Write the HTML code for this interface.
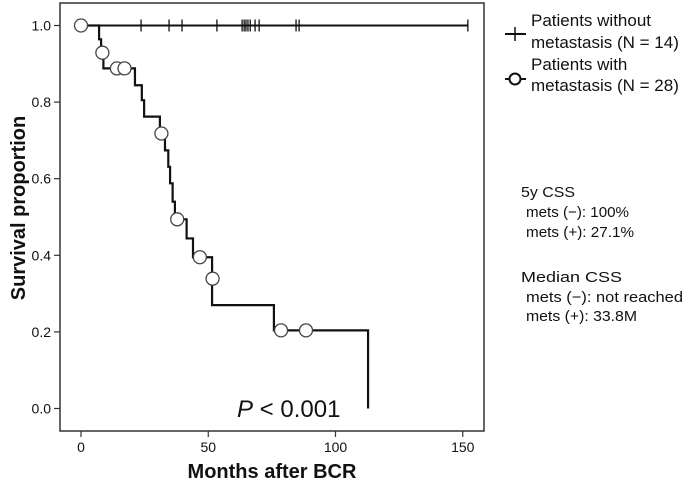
<!DOCTYPE html>
<html><head><meta charset="utf-8"><style>
body{margin:0;background:#fff;}
svg text{font-family:"Liberation Sans","Noto Sans CJK JP",sans-serif;fill:#111;}
</style></head><body>
<svg id="chart" width="685" height="484">
<rect x="60" y="3" width="424" height="428" fill="none" stroke="#333" stroke-width="1.5"/>
<g id="axes"></g>
<g id="series"></g>
<text x="0" y="0" transform="translate(25,208) rotate(-90)" text-anchor="middle" font-size="20" font-weight="bold">Survival proportion</text>
<text x="272" y="478" text-anchor="middle" font-size="20" font-weight="bold">Months after BCR</text>
<text x="237" y="417" font-size="24"><tspan font-style="italic">P</tspan> &lt; 0.001</text>
<g>
<line x1="505" y1="34" x2="526" y2="34" stroke="#111" stroke-width="2"/>
<line x1="515" y1="27" x2="515" y2="41" stroke="#111" stroke-width="1.5"/>
<text x="531" y="26" font-size="17">Patients without</text>
<text x="531" y="48" font-size="17">metastasis (N = 14)</text>
<line x1="505" y1="79" x2="526" y2="79" stroke="#111" stroke-width="2"/>
<circle cx="515" cy="79" r="5.5" fill="#fff" stroke="#111" stroke-width="2"/>
<text x="531" y="70" font-size="17">Patients with</text>
<text x="531" y="91" font-size="17">metastasis (N = 28)</text>
</g>
<g font-size="15">
<text x="521" y="197" textLength="54" lengthAdjust="spacingAndGlyphs">5y CSS</text>
<text x="526" y="217" textLength="103" lengthAdjust="spacingAndGlyphs">mets (−): 100%</text>
<text x="526" y="237" textLength="108" lengthAdjust="spacingAndGlyphs">mets (+): 27.1%</text>
<text x="521" y="282" textLength="101" lengthAdjust="spacingAndGlyphs">Median CSS</text>
<text x="526" y="302" textLength="157" lengthAdjust="spacingAndGlyphs">mets (−): not reached</text>
<text x="526" y="321" textLength="111" lengthAdjust="spacingAndGlyphs">mets (+): 33.8M</text>
</g>
</svg>
<script>
const xTicks=[0,50,100,150];
const yTicks=[0.0,0.2,0.4,0.6,0.8,1.0];
const metsTimes=[7.1,7.9,8.8,21.2,23.9,24.8,31.0,33.0,34.3,35.0,36.0,36.9,41.5,44.0,51.5,75.8,112.8];
const metsSurv=[0.964,0.929,0.888,0.844,0.805,0.762,0.718,0.674,0.631,0.588,0.54,0.494,0.444,0.395,0.27,0.204,0.0];
const metsCensorT=[0,8.4,14.1,17.1,31.6,37.8,46.7,51.7,78.6,88.4];
const metsCensorS=[1.0,0.929,0.888,0.888,0.718,0.494,0.395,0.339,0.204,0.204];
const noMetsEnd=152;
const noMetsCensorT=[23.6,34.6,39.7,53.4,63.3,64.1,64.8,65.6,66.5,68.4,70,84.5,85.7,152];
const NS='http://www.w3.org/2000/svg';
const X=t=>81+t*2.545;
const Y=s=>408.5-s*383;
function mk(tag,attrs,parent){const e=document.createElementNS(NS,tag);for(const k in attrs)e.setAttribute(k,attrs[k]);parent.appendChild(e);return e;}
const ax=document.getElementById('axes'), sr=document.getElementById('series');
xTicks.forEach(v=>{
 const l=mk('line',{x1:X(v),x2:X(v),y1:431,y2:437,stroke:'#333','stroke-width':1.2},ax);
 
 
 const t=mk('text',{x:X(v),y:452,'text-anchor':'middle','font-size':14},ax);t.textContent=v;
 
 
});
yTicks.forEach(v=>{
 const l=mk('line',{x1:54,x2:60,y1:Y(v),y2:Y(v),stroke:'#333','stroke-width':1.2},ax);
 
 
 const t=mk('text',{x:51,y:Y(v)+5,'text-anchor':'end','font-size':14},ax);t.textContent=v.toFixed(1);
 
 
});
const nl=mk('line',{x1:X(0),x2:X(noMetsEnd),y1:Y(1),y2:Y(1),stroke:'#111','stroke-width':2},sr);


noMetsCensorT.forEach(t=>{
 const c=mk('line',{x1:X(t),x2:X(t),y1:Y(1)-6,y2:Y(1)+6,stroke:'#111','stroke-width':1.3},sr);
 
 
});
let d='M'+X(0)+' '+Y(1);
metsTimes.forEach((t,i)=>{d+=' H'+X(t)+' V'+Y(metsSurv[i]);});
const p=mk('path',{d:d,fill:'none',stroke:'#111','stroke-width':2.2},sr);


metsCensorT.forEach((t,i)=>{
 const c=mk('circle',{cx:X(t),cy:Y(metsCensorS[i]),r:6.5,fill:'#fff',stroke:'#444','stroke-width':1.3},sr);
 
 
});
</script>
</body></html>
